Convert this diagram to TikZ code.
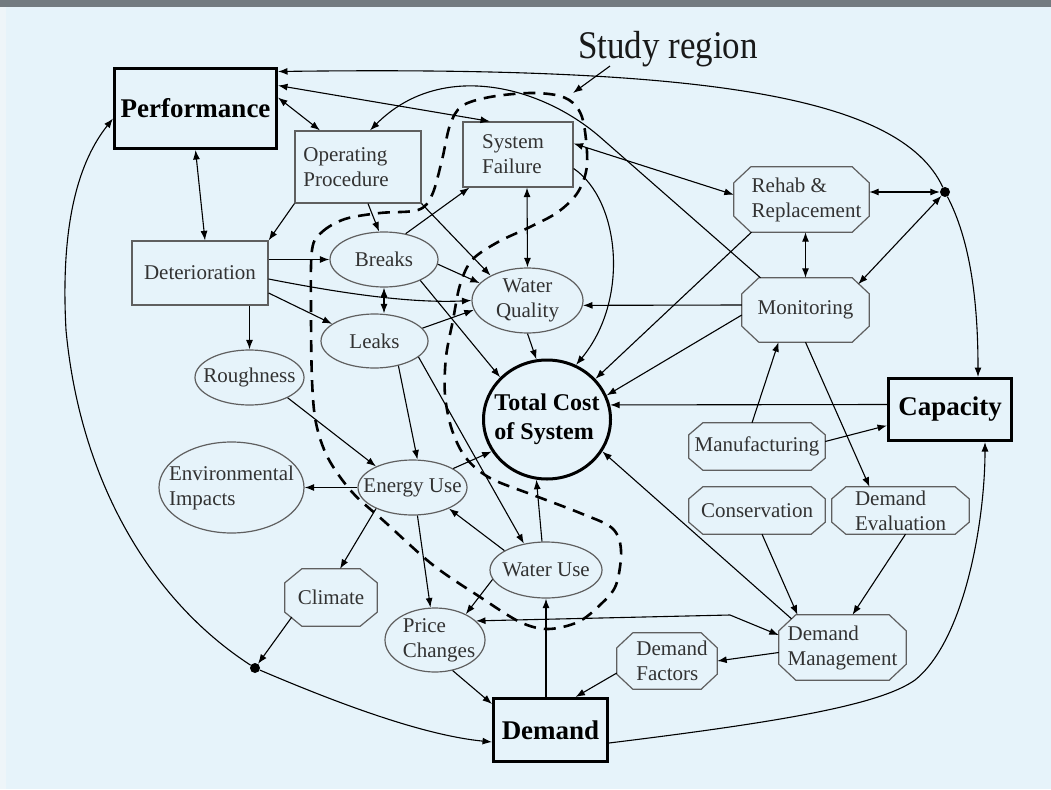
\documentclass[tikz,border=0pt]{standalone}
\usepackage{fontspec}
\setmainfont{Liberation Serif}
\usetikzlibrary{arrows.meta,shapes.geometric}

\definecolor{topbar}{RGB}{115,123,128}
\definecolor{sidebar}{RGB}{238,245,249}
\definecolor{paper}{RGB}{230,243,250}
\definecolor{edgegray}{RGB}{95,95,95}
\definecolor{txtgray}{RGB}{50,50,50}

\newcommand{\nodefont}{\fontsize{21}{25}\selectfont}
\newcommand{\bigfont}{\bfseries\fontsize{27}{31}\selectfont}

\begin{document}
\begin{tikzpicture}[x=1pt,y=-1pt,>={Latex[length=9.5pt,width=7pt]},
    every label/.style={font=\nodefont,text=txtgray,align=left,inner sep=0pt},
    box/.style={draw=edgegray,line width=1.2pt,rectangle,inner sep=0pt},
    oval/.style={draw=edgegray,line width=1.2pt,ellipse,inner sep=0pt},
    octline/.style={draw=edgegray,line width=1.2pt},
    octo/.style 2 args={rectangle,inner sep=0pt,
        append after command={\pgfextra{\let\octnode\tikzlastnode
          \draw[octline] ([xshift=#1]\octnode.north west) -- ([xshift=-#1]\octnode.north east)
            -- ([yshift=-#2]\octnode.north east) -- ([yshift=#2]\octnode.south east)
            -- ([xshift=-#1]\octnode.south east) -- ([xshift=#1]\octnode.south west)
            -- ([yshift=#2]\octnode.south west) -- ([yshift=-#2]\octnode.north west) -- cycle;}}},
    main/.style={draw=black,line width=3pt,rectangle,inner sep=0pt},
    bigtxt/.style={font=\bigfont,text=black},
    junction/.style={circle,fill=black,inner sep=0pt,minimum size=10pt},
    link/.style={->,line width=1.1pt},
    link2/.style={<->,line width=1.1pt},
    region/.style={line width=2.6pt,dash pattern=on 12pt off 8pt}]
    % background
    \fill[paper] (0,0) rectangle (1051,789);
    \fill[sidebar] (0,7) rectangle (6,789);
    \fill[topbar] (0,0) rectangle (1051,7);
    \useasboundingbox (0,0) rectangle (1051,789);
    % main blocks
    \node[main,minimum width=162pt,minimum height=80pt,label={[bigtxt]center:Performance}] (perf) at (195.5,108.5) {};
    \node[main,minimum width=123pt,minimum height=62pt,label={[bigtxt]center:Capacity}] (capacity) at (950,409.5) {};
    \node[main,minimum width=114pt,minimum height=63pt,label={[bigtxt]center:Demand}] (demand) at (550.5,730) {};
    \node[oval,draw=black,line width=3pt,minimum width=127pt,minimum height=119pt,
          label={[bigtxt,font=\bfseries\fontsize{24}{29}\selectfont]center:Total Cost\\of System}] (total) at (547,419.5) {};
    % inner nodes
    \node[box,minimum width=126pt,minimum height=72pt,label={[xshift=-12pt]center:Operating\\Procedure}] (oper) at (358,167) {};
    \node[box,minimum width=110pt,minimum height=65pt,label={[xshift=-5pt]center:System\\Failure}] (sysf) at (518,154.5) {};
    \node[box,minimum width=136pt,minimum height=64pt,label=center:Deterioration] (deter) at (200,273) {};
    \node[oval,minimum width=108pt,minimum height=55pt,label=center:Breaks] (breaks) at (384,259.5) {};
    \node[oval,minimum width=107pt,minimum height=54pt,label=center:Leaks] (leaks) at (374.5,341) {};
    \node[oval,minimum width=111pt,minimum height=65pt,label={[align=center]center:Water\\Quality}] (wqual) at (527.5,300.5) {};
    \node[oval,minimum width=109pt,minimum height=55pt,label=center:Roughness] (rough) at (249.5,377.5) {};
    \node[oval,minimum width=145pt,minimum height=91pt,label={center:Environmental\\Impacts}] (envi) at (231.5,487.5) {};
    \node[oval,minimum width=109pt,minimum height=55pt,label=center:Energy Use] (energy) at (412.5,487.5) {};
    \node[octo={17pt}{14pt},minimum width=92pt,minimum height=57pt,label=center:Climate] (climate) at (331,597.5) {};
    \node[oval,minimum width=112pt,minimum height=56pt,label=center:Water Use] (wateruse) at (546,570) {};
    \node[oval,minimum width=100pt,minimum height=64pt,label={[xshift=4pt]center:Price\\Changes}] (price) at (435,640) {};
    % right side
    \node[octo={17pt}{16pt},minimum width=135pt,minimum height=65pt,label={[xshift=5pt]center:Rehab \&\\Replacement}] (rehab) at (801.5,199.5) {};
    \node[octo={17pt}{16pt},minimum width=127pt,minimum height=64pt,label=center:Monitoring] (monit) at (805.5,310) {};
    \node[octo={14pt}{12pt},minimum width=136pt,minimum height=47pt,label=center:Manufacturing] (manuf) at (757,446.5) {};
    \node[octo={14pt}{12pt},minimum width=136pt,minimum height=47pt,label=center:Conservation] (conserv) at (757,510.5) {};
    \node[octo={14pt}{12pt},minimum width=137pt,minimum height=47pt,label={center:Demand\\Evaluation}] (deval) at (900.5,510.5) {};
    \node[octo={17pt}{16pt},minimum width=127pt,minimum height=65pt,label={center:Demand\\Management}] (dmgmt) at (842.5,647.5) {};
    \node[octo={16pt}{15pt},minimum width=100pt,minimum height=56pt,label={[xshift=5pt]center:Demand\\Factors}] (dfact) at (667,661) {};
    \node[junction] (dotL) at (255,668) {};
    \node[junction] (dotR) at (945,192) {};
    \node[font=\fontsize{35}{40}\selectfont,text=black!90,inner sep=2pt] (study) at (668,49) {\scalebox{1}[1.12]{Study region}};
    \coordinate (regtip) at (573,93);
    % study region
    \draw[region] plot[smooth cycle,tension=0.55] coordinates {(312,250) (322,232) (345,219) (380,213) (418,210)
        (432,195) (442,160) (450,125) (462,106) (490,97) (530,93) (560,96) (576,106) (584,125) (587,165)
        (578,192) (558,212) (530,227) (498,242) (472,260) (460,285) (453,320) (446,357) (445,395) (452,430)
        (466,458) (490,478) (533,495) (580,513) (612,528) (621,550) (616,585) (600,605) (578,622) (548,629)
        (520,622) (480,597) (433,565) (385,522) (352,492) (328,458) (316,423) (312,380) (311,310)};
    \draw[link] ([shift={(-58,-3)}]study.south) -- (regtip);
    % performance links
    \draw[link2] (perf.south) -- ([shift={(5,0)}]deter.north);
    \draw[link2] ([shift={(0,-11)}]perf.east) -- ([shift={(-38,0)}]oper.north);
    \draw[link2] ([shift={(0,-23)}]perf.east) -- ([shift={(-28,0)}]sysf.north);
    \draw[link] (dotR) .. controls (900,95) and (700,66) .. ([shift={(0,-37)}]perf.east);
    \draw[link] (dotR) .. controls (970,240) and (978,300) .. ([shift={(28,0)}]capacity.north);
    \draw[link] (dotL) .. controls (150,600) and (80,480) .. (66,330) .. controls (60,220) and (80,160) .. ([shift={(0,10)}]perf.west);
    \draw[link] ([shift={(-45,0)}]monit.north) -- (600,137) .. controls (540,85) and (440,60) .. ([shift={(12,0)}]oper.north);
    % left part
    \draw[link2] ([shift={(9,0)}]sysf.south) -- (wqual.north);
    \draw[link] ([shift={(0,14)}]sysf.east) .. controls (620,200) and (630,300) .. (total.62);
    \draw[link] (oper.south west) -- (deter.north east);
    \draw[link] ([shift={(10,0)}]oper.south) -- (breaks.100);
    \draw[link] (oper.south east) -- (wqual.146);
    \draw[link] (deter.east |- breaks) -- (breaks);
    \draw[link] ([shift={(0,6)}]deter.east) .. controls (360,297) and (420,303) .. (wqual.west);
    \draw[link] ([shift={(0,20)}]deter.east) -- (leaks.158);
    \draw[link] (rough |- deter.south) -- (rough);
    \draw[link] (breaks.50) -- ([shift={(7,0)}]sysf.south west);
    \draw[link2] (breaks.south) -- (breaks.south |- leaks.north);
    \draw[link] (breaks.-5) -- (wqual.160);
    \draw[link] (breaks.-30) -- (total.138);
    \draw[link] (leaks.15) -- (wqual.190);
    \draw[link] (leaks.-46) -- (energy.80);
    \draw[link] (leaks.-20) -- (wateruse.130);
    \draw[link] (wqual.south) -- (total.100);
    \draw[link] (rough.-28) -- (energy.150);
    \draw[link] (energy.west) -- (envi.east);
    \draw[link] (energy.25) -- (total.210);
    \draw[link] (energy.-150) -- ([shift={(9,0)}]climate.north);
    \draw[link] (energy.-80) -- (price.98);
    \draw[link] (wateruse.155) -- (energy.-30);
    \draw[link] (wateruse.98) -- (total.260);
    \draw[link] (wateruse.190) -- (price.40);
    \draw[link] (wateruse.south |- demand.north) -- (wateruse.south);
    \draw[link] (price.-60) -- ([shift={(0,7)}]demand.north west);
    \draw[link] ([shift={(7,-3)}]climate.206) -- (dotL);
    \draw[link] (dotL) .. controls (330,700) and (420,735) .. ([shift={(0,12)}]demand.west);
    % demand side
    \draw[link] ([shift={(0,13)}]demand.east) .. controls (780,722) and (880,705) .. (915,680) .. controls (965,640) and (985,520) .. ([shift={(35,0)}]capacity.south);
    \draw[link2] (price.25) -- (730,615) -- (dmgmt.169);
    \draw[link] ([shift={(0,5)}]dmgmt.west) -- (dfact.east);
    \draw[link] ([shift={(0,12)}]dfact.west) -- ([shift={(25,0)}]demand.north);
    \draw[link] ([shift={(8,4)}]dmgmt.151) -- (total.-30);
    \draw[link] ([shift={(5,0)}]conserv.south) -- ([shift={(-45,0)}]dmgmt.north);
    \draw[link] ([shift={(5,0)}]deval.south) -- ([shift={(10,0)}]dmgmt.north);
    \draw[link] (monit.south) -- ([shift={(-31,0)}]deval.north);
    \draw[link] ([shift={(-5,0)}]manuf.north) -- ([shift={(-27,0)}]monit.south);
    \draw[link] ([shift={(0,-5)}]manuf.east) -- ([shift={(0,16)}]capacity.west);
    \draw[link] ([shift={(0,-5)}]capacity.west) -- (total.13);
    % monitoring and rehab
    \draw[link] ([shift={(0,-5)}]monit.west) -- (wqual.-5);
    \draw[link] ([shift={(0,5)}]monit.west) -- (total.22);
    \draw[link] ([shift={(-50,0)}]rehab.south) -- (total.40);
    \draw[link2] (rehab.south -| monit.north) -- (monit.north);
    \draw[link2] (rehab.east |- dotR) -- (dotR);
    \draw[link2] ([shift={(-11,0)}]monit.22) -- (dotR);
    \draw[link2] ([shift={(0,-11)}]sysf.east) -- (rehab.176);
\end{tikzpicture}
\end{document}
